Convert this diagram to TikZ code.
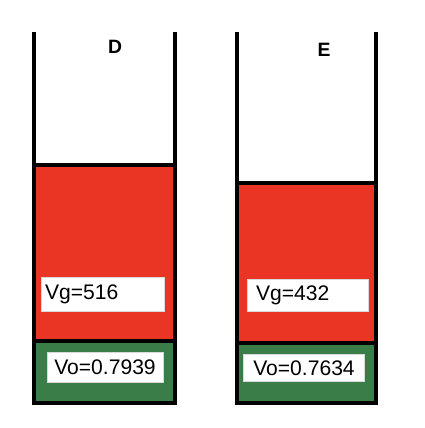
\documentclass[tikz,border=0pt]{standalone}
\usepackage{fontspec}
\setmainfont{Liberation Sans}
\usetikzlibrary{positioning}
\definecolor{gasred}{RGB}{234, 53, 36}
\definecolor{oilgreen}{RGB}{58, 125, 72}

\begin{document}
\begin{tikzpicture}[
  x=0.02cm, y=-0.02cm,
  wall/.style={draw=black, line width=1.8pt},
  gas/.style={fill=gasred},
  oil/.style={fill=oilgreen},
  valbox/.style={rectangle, fill=white, draw=black!15, line width=0.3pt, inner sep=2pt, font=\fontsize{12}{13}\selectfont, minimum height=0.64cm},
  tag/.style={font=\bfseries\fontsize{11}{12}\selectfont}
]
  \useasboundingbox (0,0) rectangle (424,428);

  % tube D
  \fill[gas] (34,165) rectangle (175,341);
  \fill[oil] (34,341) rectangle (175,403);
  \draw[wall] (34,32) -- (34,403) -- (175,403) -- (175,32);
  \draw[wall] (34,165) -- (175,165);
  \draw[wall] (34,341) -- (175,341);
  \node[tag] (tagD) at (115,47) {D};

  % tube E
  \fill[gas] (237,183) rectangle (376,343);
  \fill[oil] (237,343) rectangle (376,403);
  \draw[wall] (237,32) -- (237,403) -- (376,403) -- (376,32);
  \draw[wall] (237,183) -- (376,183);
  \draw[wall] (237,343) -- (376,343);
  \node[tag] (tagE) at (324,50) {E};

  % values
  \node[valbox, text width=2.32cm, align=left, minimum height=0.68cm] (vgD) at (103,294) {Vg=516};
  \node[valbox, minimum width=2.32cm, minimum height=0.6cm] (voD) at (105,367) {Vo=0.7939};
  \node[valbox, text width=2.28cm, align=left, minimum height=0.64cm] (vgE) at (308,295) {\hspace{0.1cm}Vg=432};
  \node[valbox, minimum width=2.42cm, minimum height=0.54cm] (voE) at (304,368) {Vo=0.7634};

\end{tikzpicture}
\end{document}
